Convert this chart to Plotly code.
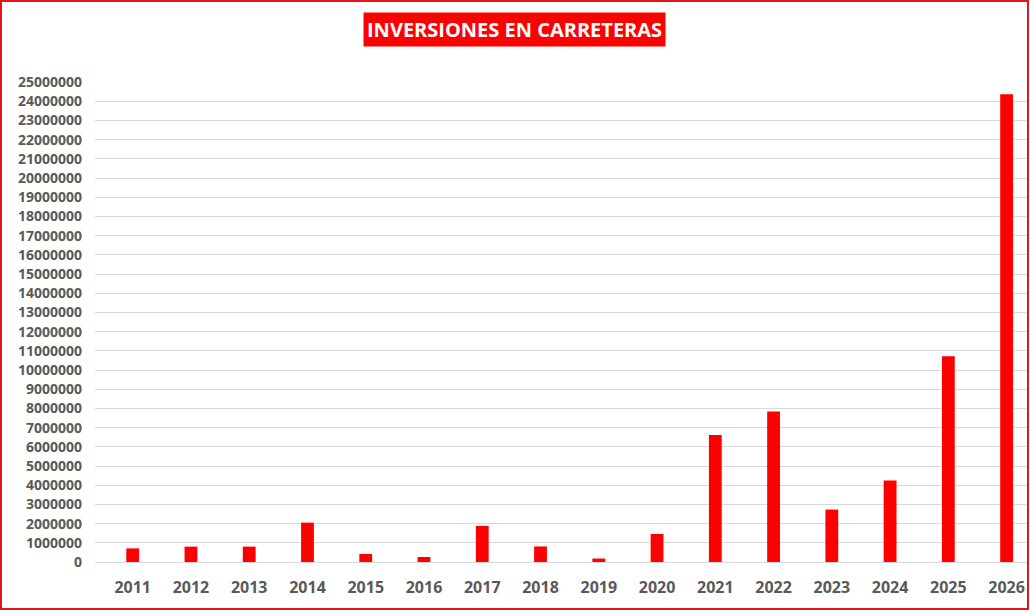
import plotly.graph_objects as go

years = ["2011", "2012", "2013", "2014", "2015", "2016", "2017", "2018",
         "2019", "2020", "2021", "2022", "2023", "2024", "2025", "2026"]
inversion = [710000, 800000, 800000, 2050000, 420000, 260000, 1880000, 810000,
             180000, 1460000, 6610000, 7840000, 2730000, 4240000, 10710000, 24360000]
y_ticks = list(range(0, 25000001, 1000000))

fig = go.Figure(go.Bar(
    x=years,
    y=inversion,
    marker=dict(color="#ff0000", line=dict(width=0)),
    width=0.22,
))

fig.update_layout(
    width=1030,
    height=612,
    margin=dict(l=95, r=3, t=82, b=50),
    paper_bgcolor="white",
    plot_bgcolor="white",
    showlegend=False,
    font=dict(family="Open Sans", color="#595959"),
)

fig.update_xaxes(
    type="category",
    range=[-0.647, 15.35],
    showgrid=False,
    showline=True,
    linecolor="#d9d9d9",
    linewidth=1,
    ticks="",
    tickfont=dict(size=16, color="#595959", family="Open Sans", weight="bold"),
    ticklabelstandoff=11,
)

fig.update_yaxes(
    range=[0, 25000000],
    tickvals=y_ticks,
    ticktext=[str(v) for v in y_ticks],
    showgrid=True,
    gridcolor="#d9d9d9",
    gridwidth=1,
    zeroline=False,
    ticks="",
    tickfont=dict(size=14, color="#595959", family="Open Sans", weight="bold"),
    ticklabelstandoff=12,
)

# titulo en caja roja
fig.add_annotation(
    text="<b>INVERSIONES EN CARRETERAS</b>",
    xref="paper", yref="paper",
    x=(514 - 95) / 932, y=(562 - 30) / 480,
    xanchor="center", yanchor="middle",
    showarrow=False,
    font=dict(size=20, color="white", family="Open Sans"),
    bgcolor="#ff0000",
    borderpad=3,
)

# marco exterior
fig.add_shape(
    type="rect",
    xref="paper", yref="paper",
    x0=(1 - 95) / 932, x1=(1028 - 95) / 932,
    y0=(562 - 609) / 480, y1=(562 - 1) / 480,
    line=dict(color="#e8141c", width=2),
    fillcolor="rgba(0,0,0,0)",
    layer="above",
)

fig.write_html("out.html", config={"displayModeBar": False},
               post_script="document.body.style.margin='0';")
